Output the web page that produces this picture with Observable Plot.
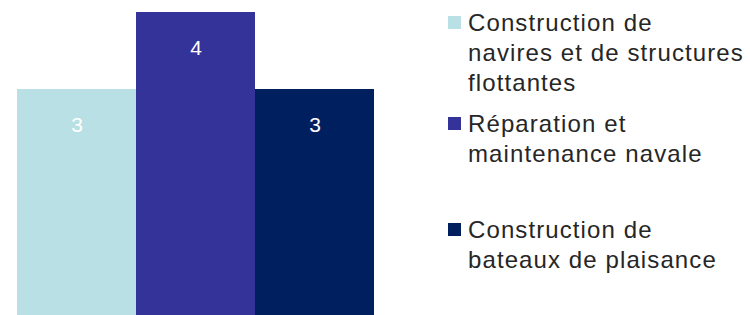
<!DOCTYPE html>
<html>
<head>
<meta charset="utf-8">
<script src="https://cdn.jsdelivr.net/npm/d3@7"></script>
<script src="https://cdn.jsdelivr.net/npm/@observablehq/plot@0.6"></script>
<style>
  html, body { margin: 0; padding: 0; background: #fff; overflow: hidden; width: 750px; height: 315px; }
  #wrap { position: relative; width: 750px; height: 315px; }
  #chart { position: absolute; left: 0; top: 0; }
  #legend { position: absolute; left: 448px; top: 0; font-family: "Liberation Sans", Arial, sans-serif; font-size: 24px; letter-spacing: 1.1px; line-height: 30px; color: #262626; }
  .item { position: absolute; left: 0; display: flex; align-items: flex-start; white-space: nowrap; }
  .sw { width: 13px; height: 13px; margin-top: 8px; margin-right: 7px; flex: none; }
</style>
</head>
<body>
<div id="wrap"><div id="chart"></div><div id="legend"></div></div>
<script>
const categories = [
  "Construction de navires et de structures flottantes",
  "Réparation et maintenance navale",
  "Construction de bateaux de plaisance"
];
const values = [3, 4, 3];
const colors = ["#B9E0E4", "#333399", "#001F5F"];
const legendLines = [
  ["Construction de", "navires et de structures", "flottantes"],
  ["Réparation et", "maintenance navale"],
  ["Construction de", "bateaux de plaisance"]
];
const legendTops = [8, 109, 215];

const data = categories.map((c, i) => ({cat: c, value: values[i]}));

const chart = Plot.plot({
  width: 400,
  height: 315,
  margin: 0,
  style: {background: "transparent", overflow: "visible"},
  x: {domain: categories, range: [16, 375], padding: 0, axis: null},
  y: {domain: [0, 4], range: [320, 12], axis: null},
  color: {domain: categories, range: colors},
  marks: [
    Plot.barY(data, {x: "cat", y: "value", fill: "cat"}),
    Plot.text(data, {x: "cat", y: "value", text: d => String(d.value), dy: 36, fill: "white",
      fontSize: 21, fontFamily: "Liberation Sans, Arial, sans-serif"})
  ]
});
document.getElementById("chart").appendChild(chart);

const legend = document.getElementById("legend");
categories.forEach((c, i) => {
  const item = document.createElement("div");
  item.className = "item";
  item.style.top = legendTops[i] + "px";
  const sw = document.createElement("div");
  sw.className = "sw";
  sw.style.background = colors[i];
  const txt = document.createElement("div");
  txt.innerHTML = legendLines[i].join("<br>");
  item.appendChild(sw);
  item.appendChild(txt);
  legend.appendChild(item);
});
</script>
</body>
</html>
